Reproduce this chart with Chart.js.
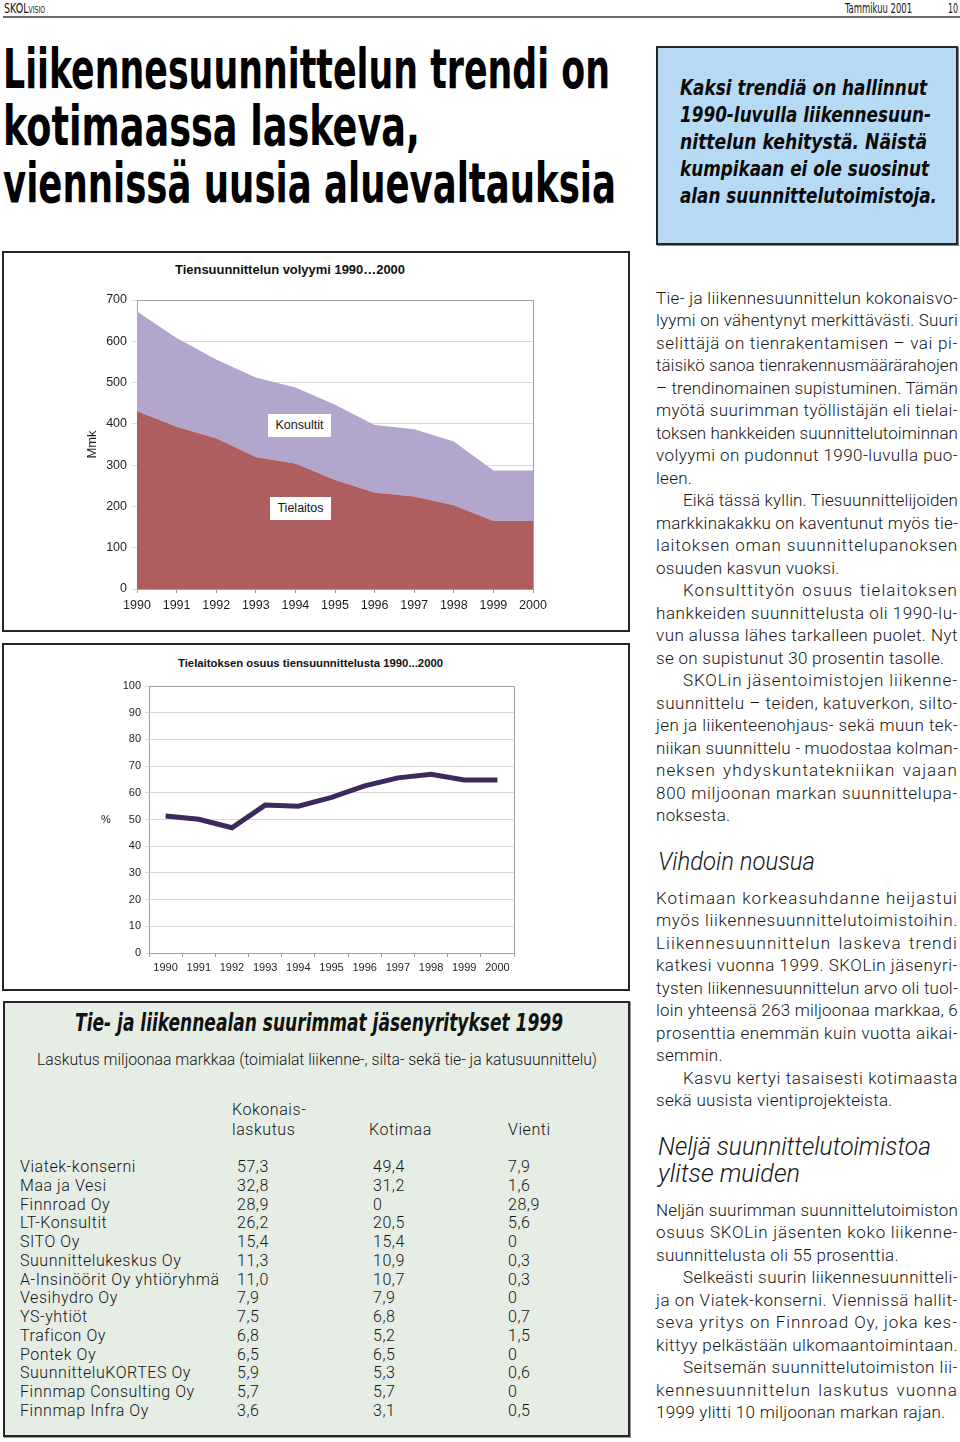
<!DOCTYPE html>
<html>
<head>
<meta charset="utf-8">
<script src="https://cdn.jsdelivr.net/npm/chart.js@4.4.0/dist/chart.umd.min.js"></script>
<style>
html, body { margin: 0; padding: 0; background: #fff; }
body { width: 960px; height: 1442px; position: relative; overflow: hidden; font-family: Roboto, "Liberation Sans", sans-serif; color: #151515; }
.abs { position: absolute; white-space: nowrap; }
.fit { display: inline-block; transform-origin: 0 50%; }
.narrow { font-family: "Liberation Sans Narrow", "DejaVu Sans Condensed", "Liberation Sans", sans-serif; }
.arial { font-family: "Liberation Sans", Arial, sans-serif; }
.box { position: absolute; box-sizing: border-box; border: 2px solid #262626; }
.txt { position: absolute; white-space: nowrap; font-size: 17px; font-weight: 300; line-height: 22.5px; height: 22.5px; }
.sub { font-style: italic; font-weight: 300; font-size: 25px; line-height: 28px; }
.tag { position: absolute; background: #fff; font-size: 12.5px; text-align: center; line-height: 23px; height: 23px; }
canvas { position: absolute; }
.tbl { position: absolute; font-size: 16px; font-weight: 300; line-height: 19px; white-space: nowrap; letter-spacing: 0.55px; }
</style>
</head>
<body>

<!-- header -->
<div class="abs narrow" style="left:4px;top:0px;font-size:14px;line-height:16px;"><span class="fit" data-w="41">SKOL<span style="font-size:9px">VISIO</span></span></div>
<div class="abs narrow" style="left:845px;top:0px;font-size:14px;line-height:16px;"><span class="fit" data-w="67">Tammikuu 2001</span></div>
<div class="abs narrow" style="left:948px;top:0px;font-size:14px;line-height:16px;"><span class="fit" data-w="10">10</span></div>
<div class="abs" style="left:3px;top:16px;width:957px;height:2px;background:#6a6a6a;"></div>

<!-- headline -->
<div class="abs narrow" style="left:3px;top:41px;font-size:56px;line-height:56px;font-weight:bold;color:#000;"><span class="fit" data-w="607">Liikennesuunnittelun trendi on</span></div>
<div class="abs narrow" style="left:3px;top:98px;font-size:56px;line-height:56px;font-weight:bold;color:#000;"><span class="fit" data-w="417">kotimaassa laskeva,</span></div>
<div class="abs narrow" style="left:3px;top:155px;font-size:56px;line-height:56px;font-weight:bold;color:#000;"><span class="fit" data-w="613">viennissä uusia aluevaltauksia</span></div>

<!-- lead box -->
<div class="box" style="left:656px;top:46px;width:302px;height:199px;background:#b6daf4;box-shadow:1px 1px 0 #888;"></div>
<div id="lead"></div>

<!-- chart 1 -->
<div class="box" style="left:2px;top:251px;width:628px;height:381px;"></div>
<div class="abs arial" style="left:175px;top:262px;font-size:12px;line-height:16px;font-weight:bold;color:#111;"><span class="fit" data-w="230">Tiensuunnittelun volyymi 1990…2000</span></div>
<canvas id="volChart" width="624" height="377" style="left:4px;top:253px;"></canvas>
<div class="tag arial" style="left:268px;top:414px;width:63px;">Konsultit</div>
<div class="tag arial" style="left:270px;top:497px;width:61px;">Tielaitos</div>

<!-- chart 2 -->
<div class="box" style="left:2px;top:643px;width:628px;height:348px;"></div>
<div class="abs arial" style="left:178px;top:656px;font-size:10.5px;line-height:14px;font-weight:bold;color:#111;"><span class="fit" data-w="265">Tielaitoksen osuus tiensuunnittelusta 1990...2000</span></div>
<canvas id="shareChart" width="624" height="343" style="left:4px;top:645px;"></canvas>
<div class="abs arial" style="left:101px;top:812px;font-size:11px;line-height:14px;color:#222;">%</div>

<!-- table -->
<div class="box" style="left:3px;top:1001px;width:627px;height:436px;background:#e5ede4;box-shadow:1px 1px 0 #999;"></div>
<div class="abs narrow" style="left:75px;top:1008px;font-size:25px;line-height:30px;font-weight:bold;font-style:italic;color:#111;"><span class="fit" data-w="488">Tie- ja liikennealan suurimmat jäsenyritykset 1999</span></div>
<div class="abs" style="left:37px;top:1050px;font-size:16px;line-height:20px;font-weight:300;"><span class="fit" data-w="560">Laskutus miljoonaa markkaa (toimialat liikenne-, silta- sekä tie- ja katusuunnittelu)</span></div>
<div class="tbl" style="left:232px;top:1100px;">Kokonais-</div>
<div class="tbl" style="left:232px;top:1120px;">laskutus</div>
<div class="tbl" style="left:369px;top:1120px;">Kotimaa</div>
<div class="tbl" style="left:508px;top:1120px;">Vienti</div>
<div id="rows"></div>

<!-- text column -->
<div id="col"></div>

<script>
// chart 1: road design volume, Mmk
const years = ['1990', '1991', '1992', '1993', '1994', '1995', '1996', '1997', '1998', '1999', '2000']
const tielaitosMmk = [431, 393, 365, 320, 304, 264, 234, 224, 203, 165, 165]
const konsultitMmk = [241, 215, 191, 192, 184, 182, 163, 163, 154, 122, 122]
const volumeMax = 700
const volumeStep = 100

// chart 2: Tielaitos share, %
const tielaitosShare = [51.3, 50.1, 46.9, 55.4, 55.0, 58.3, 62.6, 65.6, 66.9, 64.8, 64.8]
const shareMax = 100
const shareStep = 10

// table
const companies = ['Viatek-konserni', 'Maa ja Vesi', 'Finnroad Oy', 'LT-Konsultit', 'SITO Oy', 'Suunnittelukeskus Oy', 'A-Insinöörit Oy yhtiöryhmä', 'Vesihydro Oy', 'YS-yhtiöt', 'Traficon Oy', 'Pontek Oy', 'SuunnitteluKORTES Oy', 'Finnmap Consulting Oy', 'Finnmap Infra Oy']
const totalBilling = ['57,3', '32,8', '28,9', '26,2', '15,4', '11,3', '11,0', '7,9', '7,5', '6,8', '6,5', '5,9', '5,7', '3,6']
const domestic = ['49,4', '31,2', '0', '20,5', '15,4', '10,9', '10,7', '7,9', '6,8', '5,2', '6,5', '5,3', '5,7', '3,1']
const exports = ['7,9', '1,6', '28,9', '5,6', '0', '0,3', '0,3', '0', '0,7', '1,5', '0', '0,6', '0', '0,5']

const RED = 'rgb(175, 94, 96)'
const PURPLE = 'rgb(178, 166, 205)'
const LINE = 'rgb(60, 42, 92)'
const FONT = '"Liberation Sans", Arial, sans-serif'

const rows = document.getElementById('rows')
companies.forEach((name, i) => {
    const y = 1157 + i * 18.75
    const cells = [[20, name], [237, totalBilling[i]], [373, domestic[i]], [508, exports[i]]]
    cells.forEach(c => {
        const d = document.createElement('div')
        d.className = 'tbl'
        d.style.left = c[0] + 'px'
        d.style.top = y + 'px'
        d.textContent = c[1]
        rows.appendChild(d)
    })
})

// lead box lines
const leadLines = [
    ['Kaksi trendiä on hallinnut', 247],
    ['1990-luvulla liikennesuun-', 251],
    ['nittelun kehitystä. Näistä', 247],
    ['kumpikaan ei ole suosinut', 249],
    ['alan suunnittelutoimistoja.', 257]
]
const lead = document.getElementById('lead')
leadLines.forEach((l, i) => {
    const d = document.createElement('div')
    d.className = 'abs narrow'
    d.style.cssText = 'left:680px;font-size:22px;line-height:26px;font-weight:bold;font-style:italic;color:#0a0a0a;top:' + (88 + i * 27 - 13) + 'px'
    d.innerHTML = '<span class="fit" data-w="' + l[1] + '"></span>'
    d.firstChild.textContent = l[0]
    lead.appendChild(d)
})

// text column: [indent, text, justify]
const block1 = [
    [0, 'Tie- ja liikennesuunnittelun kokonaisvo-', 1],
    [0, 'lyymi on vähentynyt merkittävästi. Suuri', 1],
    [0, 'selittäjä on tienrakentamisen – vai pi-', 1],
    [0, 'täisikö sanoa tienrakennusmäärärahojen', 1],
    [0, '– trendinomainen supistuminen. Tämän', 1],
    [0, 'myötä suurimman työllistäjän eli tielai-', 1],
    [0, 'toksen hankkeiden suunnittelutoiminnan', 1],
    [0, 'volyymi on pudonnut 1990-luvulla puo-', 1],
    [0, 'leen.', 0],
    [1, 'Eikä tässä kyllin. Tiesuunnittelijoiden', 1],
    [0, 'markkinakakku on kaventunut myös tie-', 1],
    [0, 'laitoksen oman suunnittelupanoksen', 1],
    [0, 'osuuden kasvun vuoksi.', 0],
    [1, 'Konsulttityön osuus tielaitoksen', 1],
    [0, 'hankkeiden suunnittelusta oli 1990-lu-', 1],
    [0, 'vun alussa lähes tarkalleen puolet. Nyt', 1],
    [0, 'se on supistunut 30 prosentin tasolle.', 0],
    [1, 'SKOLin jäsentoimistojen liikenne-', 1],
    [0, 'suunnittelu – teiden, katuverkon, silto-', 1],
    [0, 'jen ja liikenteenohjaus- sekä muun tek-', 1],
    [0, 'niikan suunnittelu - muodostaa kolman-', 1],
    [0, 'neksen yhdyskuntatekniikan vajaan', 1],
    [0, '800 miljoonan markan suunnittelupa-', 1],
    [0, 'noksesta.', 0]
]
const block2 = [
    [0, 'Kotimaan korkeasuhdanne heijastui', 1],
    [0, 'myös liikennesuunnittelutoimistoihin.', 1],
    [0, 'Liikennesuunnittelun laskeva trendi', 1],
    [0, 'katkesi vuonna 1999. SKOLin jäsenyri-', 1],
    [0, 'tysten liikennesuunnittelun arvo oli tuol-', 1],
    [0, 'loin yhteensä 263 miljoonaa markkaa, 6', 1],
    [0, 'prosenttia enemmän kuin vuotta aikai-', 1],
    [0, 'semmin.', 0],
    [1, 'Kasvu kertyi tasaisesti kotimaasta', 1],
    [0, 'sekä uusista vientiprojekteista.', 0]
]
const block3 = [
    [0, 'Neljän suurimman suunnittelutoimiston', 1],
    [0, 'osuus SKOLin jäsenten koko liikenne-', 1],
    [0, 'suunnittelusta oli 55 prosenttia.', 0],
    [1, 'Selkeästi suurin liikennesuunnitteli-', 1],
    [0, 'ja on Viatek-konserni. Viennissä hallit-', 1],
    [0, 'seva yritys on Finnroad Oy, joka kes-', 1],
    [0, 'kittyy pelkästään ulkomaantoimintaan.', 1],
    [1, 'Seitsemän suunnittelutoimiston lii-', 1],
    [0, 'kennesuunnittelun laskutus vuonna', 1],
    [0, '1999 ylitti 10 miljoonan markan rajan.', 0]
]
const col = document.getElementById('col')
const COL_LEFT = 656, COL_W = 302, INDENT = 27, STEP = 22.5
const BASE_LS = 0.28, MAX_LS = 1.1
const pending = []

function addBlock(lines, firstCenter) {
    lines.forEach((l, i) => {
        const d = document.createElement('div')
        d.className = 'txt'
        d.style.left = (COL_LEFT + l[0] * INDENT) + 'px'
        d.style.top = (firstCenter + i * STEP - STEP / 2) + 'px'
        const s = document.createElement('span')
        s.style.display = 'inline-block'
        s.textContent = l[1]
        d.appendChild(s)
        col.appendChild(d)
        pending.push([s, COL_W - l[0] * INDENT, l[2]])
    })
}
function addSub(text, left, cy, w) {
    const d = document.createElement('div')
    d.className = 'abs sub'
    d.style.left = left + 'px'
    d.style.top = (cy - 14) + 'px'
    d.innerHTML = '<span class="fit" data-w="' + w + '"></span>'
    d.firstChild.textContent = text
    col.appendChild(d)
}
addBlock(block1, 298)
addSub('Vihdoin nousua', 658, 862, 157)
addBlock(block2, 898)
addSub('Neljä suunnittelutoimistoa', 658, 1147, 273)
addSub('ylitse muiden', 658, 1174, 142)
addBlock(block3, 1210)

function layoutText() {
    pending.forEach(p => {
        const s = p[0], avail = p[1], justify = p[2]
        const n = s.textContent.length
        s.style.letterSpacing = '0px'
        s.style.wordSpacing = '0px'
        const nat = s.getBoundingClientRect().width
        const spaces = (s.textContent.match(/ /g) || []).length
        if (!justify) {
            let ls = BASE_LS
            if (nat + ls * n > avail) ls = (avail - nat) / n
            s.style.letterSpacing = ls + 'px'
            return
        }
        const extra = avail - nat
        if (extra < 0 || !spaces) {
            s.style.letterSpacing = (extra / n) + 'px'
            return
        }
        const ls = Math.min(extra / n, MAX_LS)
        s.style.letterSpacing = ls + 'px'
        s.style.wordSpacing = ((extra - ls * n) / spaces) + 'px'
    })
    document.querySelectorAll('.fit[data-w]').forEach(el => {
        el.style.transform = 'none'
        const nat = el.getBoundingClientRect().width
        if (nat > 0) el.style.transform = 'scaleX(' + (+el.dataset.w / nat) + ')'
    })
}
layoutText()
if (document.fonts) document.fonts.ready.then(layoutText)

// grey frame round the plot area
const frame = {
    id: 'frame',
    beforeDatasetsDraw(chart) {
        const a = chart.chartArea, ctx = chart.ctx
        ctx.save()
        ctx.strokeStyle = '#a3a3a3'
        ctx.lineWidth = 1
        ctx.strokeRect(Math.round(a.left) + 0.5, Math.round(a.top) + 0.5, Math.round(a.right - a.left), Math.round(a.bottom - a.top))
        ctx.restore()
    }
}

new Chart(document.getElementById('volChart'), {
    type: 'line',
    data: {
        labels: years,
        datasets: [
            { label: 'Tielaitos', data: tielaitosMmk, fill: 'origin', backgroundColor: RED, borderWidth: 0, pointRadius: 0, tension: 0 },
            { label: 'Konsultit', data: konsultitMmk, fill: '-1', backgroundColor: PURPLE, borderWidth: 0, pointRadius: 0, tension: 0 }
        ]
    },
    options: {
        responsive: false,
        animation: false,
        events: [],
        layout: { padding: { left: 81, right: 95, top: 47, bottom: 11 } },
        plugins: { legend: { display: false }, tooltip: { enabled: false } },
        scales: {
            x: {
                offset: false,
                grid: { drawOnChartArea: false, tickLength: 4, color: '#999' },
                border: { color: '#999' },
                ticks: { padding: 5, autoSkip: false, maxRotation: 0, color: '#1e1e1e', font: { family: FONT, size: 12.5 } },
                afterFit(s) { s.height = 30 }
            },
            y: {
                stacked: true,
                min: 0,
                max: volumeMax,
                grid: { color: '#dadada', tickLength: 5 },
                border: { color: '#999' },
                ticks: { stepSize: volumeStep, padding: 5, color: '#1e1e1e', font: { family: FONT, size: 12.5 } },
                title: { display: true, text: 'Mmk', padding: 0, color: '#1e1e1e', font: { family: FONT, size: 13 } },
                afterFit(s) { s.width = 52 }
            }
        }
    },
    plugins: [frame]
})

new Chart(document.getElementById('shareChart'), {
    type: 'line',
    data: {
        labels: years,
        datasets: [
            { label: 'Tielaitoksen osuus', data: tielaitosShare, borderColor: LINE, borderWidth: 5, pointRadius: 0, tension: 0, fill: false }
        ]
    },
    options: {
        responsive: false,
        animation: false,
        events: [],
        layout: { padding: { left: 100, right: 114, top: 41, bottom: 10 } },
        plugins: { legend: { display: false }, tooltip: { enabled: false } },
        scales: {
            x: {
                offset: true,
                grid: { offset: true, drawOnChartArea: false, tickLength: 4, color: '#999' },
                border: { color: '#999' },
                ticks: { padding: 4, autoSkip: false, maxRotation: 0, color: '#1e1e1e', font: { family: FONT, size: 11 } },
                afterFit(s) { s.height = 25 }
            },
            y: {
                min: 0,
                max: shareMax,
                grid: { color: '#dadada', tickLength: 4 },
                border: { color: '#999' },
                ticks: { stepSize: shareStep, padding: 4, color: '#1e1e1e', font: { family: FONT, size: 11 } },
                afterFit(s) { s.width = 45 }
            }
        }
    },
    plugins: [frame]
})
</script>
</body>
</html>
